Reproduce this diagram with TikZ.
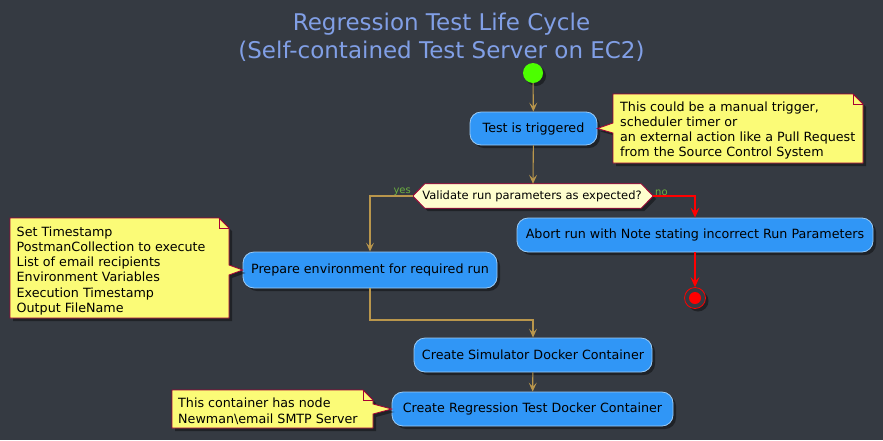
\documentclass[tikz,border=0pt]{standalone}
\usepackage{fontspec}
\setmainfont{DejaVu Sans}
\usetikzlibrary{arrows.meta,shadows,positioning}
\definecolor{bg}{HTML}{353A42}
\definecolor{boxfill}{HTML}{3096F6}
\definecolor{boxline}{HTML}{9CCBF5}
\definecolor{gold}{HTML}{B9964C}
\definecolor{notefill}{HTML}{FBFB77}
\definecolor{noteline}{HTML}{A80036}
\definecolor{hexfill}{HTML}{FEFECE}
\definecolor{lblgreen}{HTML}{6CB040}
\definecolor{titlecol}{HTML}{819FE6}
\definecolor{startgreen}{HTML}{4CFF00}
\tikzset{
  shad/.style={drop shadow={shadow xshift=3pt,shadow yshift=-3pt,fill=black,opacity=0.4}},
  act/.style={shape=rectangle,rounded corners=11pt,fill=boxfill,draw=boxline,line width=0.8pt,
    font=\fontsize{12.7}{14}\selectfont,text=black,inner sep=0pt,shad},
  notetxt/.style={align=left,anchor=north west,font=\fontsize{12.7}{15.2}\selectfont,inner sep=0pt,text=black},
  noteshape/.style={fill=notefill,draw=noteline,line width=0.8pt,shad},
  flow/.style={draw=gold,line width=1.1pt,-{Stealth[length=9pt,width=8pt,inset=4pt]}},
  rflow/.style={draw=red,line width=1.4pt,-{Stealth[length=10pt,width=9pt,inset=4pt]}},
  lbl/.style={text=lblgreen,font=\fontsize{10}{11}\selectfont,inner sep=0pt}
}
\begin{document}
\begin{tikzpicture}[x=1pt,y=-1pt]
\fill[bg] (0,0) rectangle (883,440);
\useasboundingbox (0,0) rectangle (883,440);

% title
\node[text=titlecol,font=\fontsize{23}{27.5}\selectfont,align=center,inner sep=0pt] (title) at (441.5,37.5)
  {Regression Test Life Cycle\\(Self-contained Test Server on EC2)};

% start
\node[circle,fill=startgreen,minimum size=20pt,inner sep=0pt,shad] (start) at (533,73) {};

% activities
\node[act,minimum width=127pt,minimum height=33pt] (trig) at (533.5,128.5) {Test is triggered};
\node[act,minimum width=356pt,minimum height=34pt] (abort) at (695,235) {Abort run with Note stating incorrect Run Parameters};
\node[act,minimum width=254pt,minimum height=36pt] (prep) at (370,270) {Prepare environment for required run};
\node[act,minimum width=238pt,minimum height=34pt] (sim) at (533,355) {Create Simulator Docker Container};
\node[act,minimum width=281pt,minimum height=34pt] (reg) at (532.5,409) {Create Regression Test Docker Container};

% decision hexagon
\node[minimum width=240pt,minimum height=24pt,inner sep=0pt] (dec) at (533,196) {};
\path[fill=hexfill,draw=noteline,line width=0.8pt,shad]
  (dec.west) -- ([xshift=12pt]dec.north west) -- ([xshift=-12pt]dec.north east) -- (dec.east)
  -- ([xshift=-12pt]dec.south east) -- ([xshift=12pt]dec.south west) -- cycle;
\node[font=\fontsize{11.5}{13}\selectfont,text=black,inner sep=0pt] (dectxt) at (532,196.5) {Validate run parameters as expected?};

% end
\node[circle,draw=red,line width=0.8pt,minimum size=21pt,inner sep=0pt,shad,fill=bg] (end) at (695,298) {};
\node[circle,fill=red,minimum size=12pt,inner sep=0pt] (endin) at (end.center) {};

% notes
\path[noteshape] (613,94) -- (853,94) -- (863,104) -- (863,163) -- (613,163) -- (613,133) -- (trig.east) -- (613,123) -- cycle;
\draw[noteline,line width=0.8pt] (853,94) -- (853,104) -- (863,104);
\node[notetxt] (n1) at (620,101.5) {This could be a manual trigger,\\scheduler timer or\\an external action like a Pull Request\\from the Source Control System};

\path[noteshape] (10,218) -- (219,218) -- (229,228) -- (229,265) -- (prep.west) -- (229,275) -- (229,318) -- (10,318) -- cycle;
\draw[noteline,line width=0.8pt] (219,218) -- (219,228) -- (229,228);
\node[notetxt] (n2) at (16.5,226.5) {Set Timestamp\\PostmanCollection to execute\\List of email recipients\\Environment Variables\\Execution Timestamp\\Output FileName};

\path[noteshape] (172,390) -- (363,390) -- (373,400) -- (373,404) -- (reg.west) -- (373,414) -- (373,428) -- (172,428) -- cycle;
\draw[noteline,line width=0.8pt] (363,390) -- (363,400) -- (373,400);
\node[notetxt] (n3) at (178,398) {This container has node\\Newman\textbackslash email SMTP Server};

% connectors
\draw[flow] (start) -- (trig);
\draw[flow] (trig) -- (dec.north);
\draw[flow] (dec.west) -| (prep.north);
\draw[rflow] (dec.east) -| (abort.north);
\draw[rflow] (abort) -- (end);
\coordinate (merge) at (533,320);
\draw[flow] (prep.south) |- (merge) -- (sim.north);
\draw[flow] (sim) -- (reg);

\node[lbl,anchor=south east] (yes) at (411,195.5) {yes};
\node[lbl,anchor=south west] (no) at (655,195.5) {no};
\end{tikzpicture}
\end{document}
